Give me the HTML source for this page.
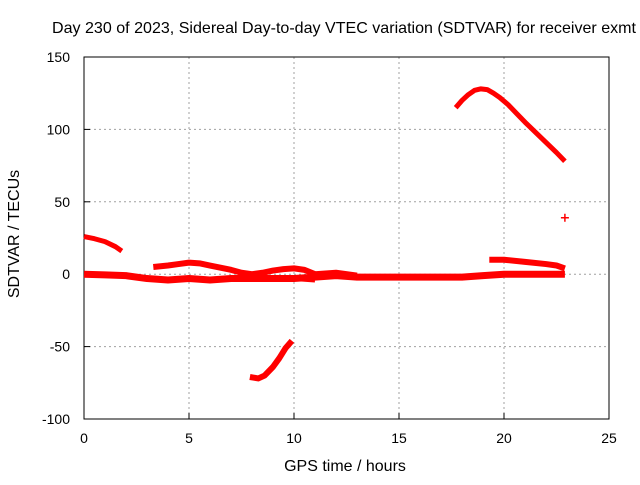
<!DOCTYPE html>
<html><head><meta charset="utf-8"><style>
body{margin:0;background:#fff}
svg text{font-family:"Liberation Sans",sans-serif;font-size:14px;fill:#000}
</style></head><body>
<svg id="chart" width="640" height="480" xmlns="http://www.w3.org/2000/svg">
<rect width="640" height="480" fill="#fff"/>
<text x="52" y="33" textLength="584" lengthAdjust="spacingAndGlyphs" style="font-size:16px">Day 230 of 2023, Sidereal Day-to-day VTEC variation (SDTVAR) for receiver exmt</text>
<g id="grid"></g>
<g id="axes"></g>
<g id="series"></g>
<text x="345" y="471" text-anchor="middle" style="font-size:16px">GPS time / hours</text>
<text x="0" y="0" text-anchor="middle" style="font-size:16px" transform="translate(19,234) rotate(-90)">SDTVAR / TECUs</text>
</svg>
<script>
const xTicks=[0,5,10,15,20,25];
const yTicks=[-100,-50,0,50,100,150];
const bandX=[0,1,2,3,4,5,6,7,8,9,10,11,12,13,14,15,16,17,18,19,20,21,22,22.9];
const bandY=[0,-0.5,-1,-3,-4,-3,-4,-3,-3,-3,-3,-2,-1,-2,-2,-2,-2,-2,-2,-1,0,0,0,0];
const waveX=[3.3,4,4.5,5,5.5,6,6.5,7,7.5,8,8.5,9,9.5,10,10.5,11,12,13];
const waveY=[5,6,7,8,7.5,6,4.5,3,1,0,1,2.5,3.5,4,3,0,1,-1];
const lowX=[7.8,8.5,10,11];
const lowY=[-3,-3,-3,-4];
const startX=[0,0.5,1,1.5,1.8];
const startY=[26,24.5,22.5,19,16];
const dipX=[7.9,8.3,8.6,9,9.3,9.6,9.9];
const dipY=[-71,-72,-70,-64,-58,-51,-46];
const arcX=[17.7,18,18.3,18.6,18.9,19.2,19.5,19.8,20.2,20.6,21,21.5,22,22.5,22.9];
const arcY=[115,120,124,127,128,127.5,125,122,117,111,105,98,91,84,78];
const lateX=[19.3,20,21,22,22.5,22.9];
const lateY=[10,10,8.5,7,6,4];
const outlierX=[22.9];
const outlierY=[39];
const X0=84,X1=609,Y0=419,Y1=57;
const xs=h=>X0+(h-0)/25*(X1-X0);
const ys=v=>Y0-(v+100)/250*(Y0-Y1);
const NS="http://www.w3.org/2000/svg";
function mk(tag,parent){const e=document.createElementNS(NS,tag);parent.appendChild(e);return e;}
const grid=document.getElementById('grid'),axes=document.getElementById('axes'),ser=document.getElementById('series');
xTicks.forEach(t=>{
 if(t>0&&t<25){const l=mk('line',grid);
 
 
 l.setAttribute('x1',xs(t));l.setAttribute('x2',xs(t));l.setAttribute('y1',Y1);l.setAttribute('y2',Y0);
 l.setAttribute('stroke','#a0a0a0');l.setAttribute('stroke-dasharray','2,3');}
 const tk=mk('line',axes);
 
 
 tk.setAttribute('x1',xs(t));tk.setAttribute('x2',xs(t));tk.setAttribute('y1',Y0);tk.setAttribute('y2',Y0-6);tk.setAttribute('stroke','#000');
 const tx=mk('text',axes);
 
 
 tx.setAttribute('x',xs(t));tx.setAttribute('y',Y0+24);tx.setAttribute('text-anchor','middle');tx.textContent=t;
});
yTicks.forEach(t=>{
 if(t>-100&&t<150){const l=mk('line',grid);
 
 
 l.setAttribute('x1',X0);l.setAttribute('x2',X1);l.setAttribute('y1',ys(t));l.setAttribute('y2',ys(t));
 l.setAttribute('stroke','#a0a0a0');l.setAttribute('stroke-dasharray','2,3');}
 const tk=mk('line',axes);
 
 
 tk.setAttribute('x1',X0);tk.setAttribute('x2',X0+6);tk.setAttribute('y1',ys(t));tk.setAttribute('y2',ys(t));tk.setAttribute('stroke','#000');
 const tx=mk('text',axes);
 
 
 tx.setAttribute('x',X0-14);tx.setAttribute('y',ys(t)+5);tx.setAttribute('text-anchor','end');tx.textContent=t;
});
const fr=mk('rect',axes);


fr.setAttribute('x',X0);fr.setAttribute('y',Y1);fr.setAttribute('width',X1-X0);fr.setAttribute('height',Y0-Y1);
fr.setAttribute('fill','none');fr.setAttribute('stroke','#000');
function line(xa,ya,w,name){
 const p=mk('polyline',ser);
 
 
 p.setAttribute('points',xa.map((x,i)=>xs(x)+','+ys(ya[i])).join(' '));
 p.setAttribute('fill','none');p.setAttribute('stroke','#ff0000');p.setAttribute('stroke-width',w);
 p.setAttribute('stroke-linejoin','round');
}
line(bandX,bandY,7,'series-zero-band');
line(waveX,waveY,6,'series-wave');
line(lowX,lowY,5,'series-low-band');
line(startX,startY,5,'series-start');
line(dipX,dipY,6,'series-dip');
line(arcX,arcY,5,'series-arc');
line(lateX,lateY,6,'series-late');
outlierX.forEach((x,i)=>{
 const g=mk('path',ser);
 
 
 const cx=xs(x),cy=ys(outlierY[i]);
 g.setAttribute('d',`M${cx-4},${cy}H${cx+4}M${cx},${cy-4}V${cy+4}`);
 g.setAttribute('stroke','#ff0000');g.setAttribute('stroke-width',1.5);
});
</script>
</body></html>
